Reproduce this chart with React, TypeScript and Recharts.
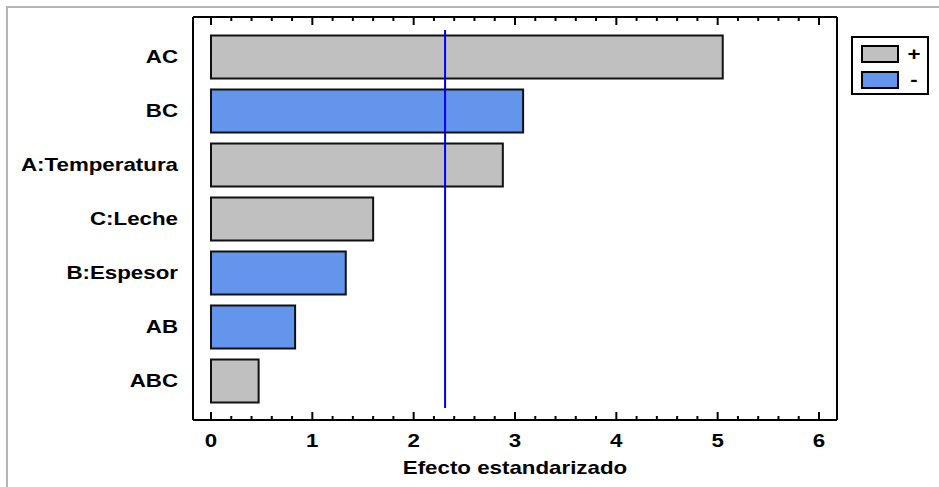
import { BarChart, Bar, XAxis, YAxis, Cell, ReferenceLine } from "recharts";

// Pareto de efectos estandarizados
const factors = ["AC", "BC", "A:Temperatura", "C:Leche", "B:Espesor", "AB", "ABC"];
const effects = [5.05, 3.08, 2.88, 1.6, 1.33, 0.83, 0.47];
const signs = ["+", "-", "+", "+", "-", "-", "+"];
const threshold = 2.31;
const xTickLabels = [0, 1, 2, 3, 4, 5, 6];
const legendItems = ["+", "-"];
const axisTitle = "Efecto estandarizado";

const POS = "#c0c0c0";
const NEG = "#6495ed";
const FONT = "'Liberation Sans', Arial, sans-serif";
const SX = 1.24; // the reference text is stretched sideways
const MARGIN_TOP = 16;
const TOP_AXIS_H = 1;
const FRAME_TOP = MARGIN_TOP + TOP_AXIS_H;

const data = factors.map((name, i) => ({ name, value: effects[i], sign: signs[i] }));

// majors at integers, 4 minor ticks between
const ticks: number[] = [];
xTickLabels.forEach((t, i) => {
  ticks.push(t);
  if (i < xTickLabels.length - 1) {
    for (let k = 1; k < 5; k++) ticks.push(Math.round((t + k * 0.2) * 10) / 10);
  }
});

function StretchText({ x, y, anchor, children }: any) {
  return (
    <text
      transform={`translate(${x},${y}) scale(${SX},1)`}
      textAnchor={anchor}
      fontFamily={FONT}
      fontWeight="bold"
      fontSize={18}
      fill="#000"
    >
      {children}
    </text>
  );
}

// bottom tick + mirrored tick on the top edge of the frame
function BottomTick(props: any) {
  const { x, y, payload } = props;
  const major = xTickLabels.includes(payload.value);
  const len = major ? 8 : 4;
  return (
    <g>
      <line x1={x} x2={x} y1={y} y2={y - len} stroke="#000" strokeWidth={2} />
      <line x1={x} x2={x} y1={FRAME_TOP} y2={FRAME_TOP + len} stroke="#000" strokeWidth={2} />
      {major && (
        <StretchText x={x} y={y + 27} anchor="middle">
          {payload.value}
        </StretchText>
      )}
    </g>
  );
}

function FactorTick(props: any) {
  const { x, y, payload } = props;
  return (
    <StretchText x={x - 15} y={y + 6} anchor="end">
      {payload.value}
    </StretchText>
  );
}

function ThresholdLine(p: any) {
  const top = Math.min(p.y1, p.y2) + 13;
  const bottom = Math.max(p.y1, p.y2) - 12;
  return <line x1={p.x1} x2={p.x2} y1={top} y2={bottom} stroke="#0000ee" strokeWidth={2} />;
}

function AxisTitle(props: any) {
  const vb = props.viewBox;
  return (
    <StretchText x={vb.x + vb.width / 2} y={vb.y + 54} anchor="middle">
      {axisTitle}
    </StretchText>
  );
}

function Legend() {
  return (
    <svg width={80} height={60} style={{ position: "absolute", left: 851, top: 36 }}>
      <rect x={1} y={1} width={76} height={57} fill="#fff" stroke="#000" strokeWidth={2} />
      {legendItems.map((s, i) => (
        <g key={s}>
          <rect
            x={11}
            y={10 + i * 26}
            width={36}
            height={16}
            fill={s === "+" ? POS : NEG}
            stroke="#000"
            strokeWidth={2}
          />
          <StretchText x={63} y={24 + i * 26} anchor="middle">
            {s}
          </StretchText>
        </g>
      ))}
    </svg>
  );
}

export default function App() {
  return (
    <div
      style={{
        position: "absolute",
        left: 0,
        top: 0,
        width: 939,
        height: 487,
        background: "#fff",
        overflow: "hidden",
      }}
    >
      <div
        style={{
          position: "absolute",
          left: 6,
          top: 6,
          width: 960,
          height: 500,
          borderTop: "2px solid #b4b4b4",
          borderLeft: "2px solid #b4b4b4",
        }}
      />
      <div style={{ position: "absolute", left: 0, top: 0 }}>
        <BarChart
          width={939}
          height={487}
          data={data}
          layout="vertical"
          barCategoryGap="10%"
          margin={{ top: MARGIN_TOP, right: 101, bottom: 0, left: 0 }}
        >
          <XAxis
            type="number"
            domain={[0, 6]}
            ticks={ticks}
            interval={0}
            padding={{ left: 18, right: 18 }}
            height={67}
            tickSize={0}
            tickMargin={0}
            tickLine={false}
            tick={<BottomTick />}
            axisLine={{ stroke: "#000", strokeWidth: 2 }}
            label={{ content: <AxisTitle /> }}
          />
          <XAxis
            xAxisId="top"
            orientation="top"
            type="number"
            domain={[0, 6]}
            allowDataOverflow
            height={TOP_AXIS_H}
            tick={false}
            tickLine={false}
            axisLine={{ stroke: "#000", strokeWidth: 2 }}
          />
          <YAxis
            type="category"
            dataKey="name"
            width={193}
            padding={{ top: 13, bottom: 12 }}
            tickSize={0}
            tickMargin={0}
            tickLine={false}
            interval={0}
            tick={<FactorTick />}
            axisLine={{ stroke: "#000", strokeWidth: 2 }}
          />
          <YAxis
            yAxisId="right"
            orientation="right"
            type="category"
            dataKey="name"
            width={1}
            tick={false}
            tickLine={false}
            axisLine={{ stroke: "#000", strokeWidth: 2 }}
          />
          <Bar dataKey="value" stroke="#111" strokeWidth={2} isAnimationActive={false}>
            {data.map((d) => (
              <Cell key={d.name} fill={d.sign === "+" ? POS : NEG} />
            ))}
          </Bar>
          <ReferenceLine x={threshold} shape={<ThresholdLine />} />
        </BarChart>
      </div>
      <Legend />
    </div>
  );
}
